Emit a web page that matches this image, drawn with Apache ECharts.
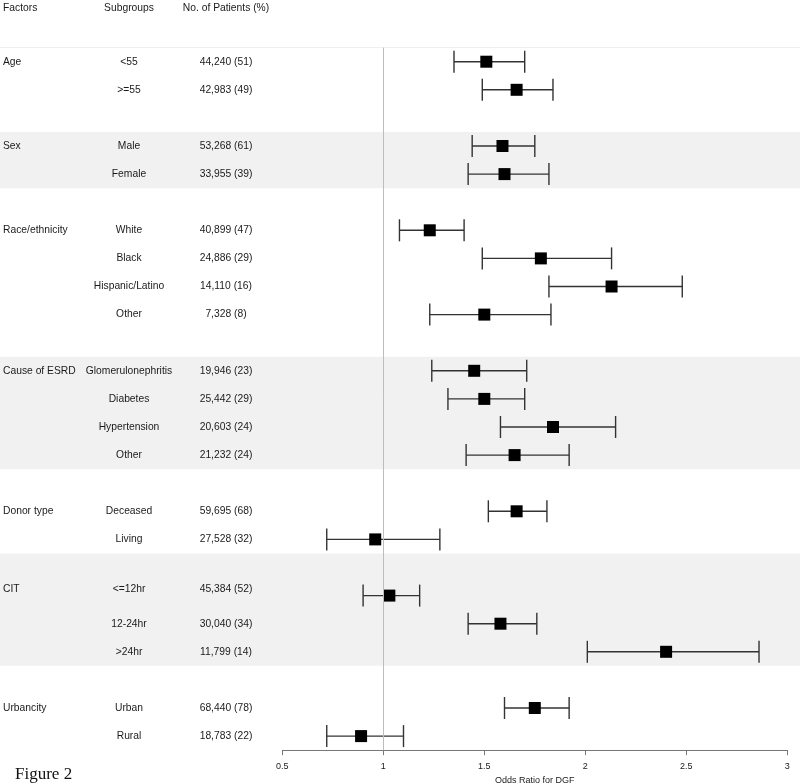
<!DOCTYPE html>
<html>
<head>
<meta charset="utf-8">
<script src="https://cdn.jsdelivr.net/npm/echarts@6/dist/echarts.min.js"></script>
<style>
html,body{margin:0;padding:0;background:#fff;}
#chart{width:800px;height:784px;}
</style>
</head>
<body>
<div id="chart"></div>
<script>
// ---------------- data ----------------
const headers = ['Factors', 'Subgroups', 'No. of Patients (%)'];
const factors = ['Age', 'Sex', 'Race/ethnicity', 'Cause of ESRD', 'Donor type', 'CIT', 'Urbancity'];
const factorRows = [0, 3, 6, 11, 16, 18.78, 23];
const subgroups = ['<55', '>=55', 'Male', 'Female', 'White', 'Black', 'Hispanic/Latino', 'Other',
  'Glomerulonephritis', 'Diabetes', 'Hypertension', 'Other', 'Deceased', 'Living',
  '<=12hr', '12-24hr', '>24hr', 'Urban', 'Rural'];
const patients = ['44,240 (51)', '42,983 (49)', '53,268 (61)', '33,955 (39)', '40,899 (47)', '24,886 (29)',
  '14,110 (16)', '7,328 (8)', '19,946 (23)', '25,442 (29)', '20,603 (24)', '21,232 (24)',
  '59,695 (68)', '27,528 (32)', '45,384 (52)', '30,040 (34)', '11,799 (14)', '68,440 (78)', '18,783 (22)'];
const rows =      [0, 1, 3, 4, 6, 7, 8, 9, 11, 12, 13, 14, 16, 17, 19, 20, 21, 23, 24];
const labelRows = [0, 1, 3, 4, 6, 7, 8, 9, 11, 12, 13, 14, 16, 17, 18.78, 20, 21, 23, 24];
const oddsRatio = [1.51, 1.66, 1.59, 1.60, 1.23, 1.78, 2.13, 1.50, 1.45, 1.50, 1.84, 1.65, 1.66, 0.96, 1.03, 1.58, 2.40, 1.75, 0.89];
const ciLow =     [1.35, 1.49, 1.44, 1.42, 1.08, 1.49, 1.82, 1.23, 1.24, 1.32, 1.58, 1.41, 1.52, 0.72, 0.90, 1.42, 2.01, 1.60, 0.72];
const ciHigh =    [1.70, 1.84, 1.75, 1.82, 1.40, 2.13, 2.48, 1.83, 1.71, 1.70, 2.15, 1.92, 1.81, 1.28, 1.18, 1.76, 2.86, 1.92, 1.10];
const bands = [[2.5, 4.5], [10.5, 14.5], [17.5, 21.5]];
const xTicks = [0.5, 1, 1.5, 2, 2.5, 3];
const headerRow = -1.9;

// ---------------- layout ----------------
const W = 800, H = 784;
const ROW0 = 61.7, ROWH = 28.1;
const plotLeft = 282.3, plotRight = W - 787.3;
const plotTop = ROW0 - 0.5 * ROWH, plotBottom = H - (ROW0 + 24.5 * ROWH);
const colFactor = 3, colSub = 129, colPat = 226;
const font = 'Liberation Sans, Arial, sans-serif';
const txtSize = 10.3;
const txtColor = '#1a1a1a';

function textSeries(texts, xs, ys, align) {
  return {
    type: 'custom', xAxisIndex: 1, yAxisIndex: 1, z: 5, silent: true, clip: false,
    data: texts.map((t, i) => [xs[i], ys[i]]),
    renderItem: function (params, api) {
      const p = api.coord([api.value(0), api.value(1)]);
      return {
        type: 'text',
        x: p[0], y: p[1],
        style: {
          text: texts[params.dataIndex],
          align: align, verticalAlign: 'middle',
          fontSize: txtSize, fontFamily: font, fill: txtColor
        }
      };
    }
  };
}

const leftTexts = factors.concat([headers[0]]);
const leftRows = factorRows.concat([headerRow]);
const subTexts = subgroups.concat([headers[1]]);
const subRows = labelRows.concat([headerRow]);
const patTexts = patients.concat([headers[2]]);
const patRows = labelRows.concat([headerRow]);

const chart = echarts.init(document.getElementById('chart'), null, { renderer: 'canvas' });
chart.setOption({
  animation: false,
  backgroundColor: '#fff',
  title: {
    text: 'Figure 2', left: 15, top: 766, padding: 0,
    textStyle: { fontFamily: 'Liberation Serif, Times New Roman, serif', fontSize: 17, fontWeight: 'normal', color: '#111' }
  },
  grid: [
    { left: plotLeft, right: plotRight, top: plotTop, bottom: plotBottom, outerBoundsMode: 'none', containLabel: false },
    { left: 0, right: 0, top: 0, bottom: 0, outerBoundsMode: 'none', containLabel: false }
  ],
  xAxis: [
    {
      gridIndex: 0, type: 'value', min: xTicks[0], max: xTicks[xTicks.length - 1], interval: 0.5,
      name: 'Odds Ratio for DGF', nameLocation: 'middle', nameGap: 24,
      nameTextStyle: { fontSize: 9, fontFamily: font, color: txtColor },
      axisLine: { show: true, onZero: false, lineStyle: { color: '#777', width: 1 } },
      axisTick: { show: true, length: 5, lineStyle: { color: '#777' } },
      axisLabel: { fontSize: 9, fontFamily: font, color: txtColor, margin: 12, showMaxLabel: true, showMinLabel: true,
        formatter: v => String(v) },
      splitLine: { show: false }
    },
    { gridIndex: 1, type: 'value', min: 0, max: W, show: false }
  ],
  yAxis: [
    { gridIndex: 0, type: 'value', min: -0.5, max: 24.5, inverse: true, show: false },
    { gridIndex: 1, type: 'value', min: -ROW0 / ROWH, max: (H - ROW0) / ROWH, inverse: true, show: false }
  ],
  series: [
    {
      type: 'line', xAxisIndex: 1, yAxisIndex: 1, data: [], z: 0, silent: true,
      markArea: {
        silent: true,
        itemStyle: { color: '#f1f1f1' },
        data: bands.map(b => [{ yAxis: b[0] }, { yAxis: b[1] }])
      },
      markLine: {
        silent: true, symbol: 'none', label: { show: false },
        lineStyle: { color: '#efefef', width: 1, type: 'solid' },
        data: [{ yAxis: -0.5 }]
      }
    },
    textSeries(leftTexts, leftTexts.map(() => colFactor), leftRows, 'left'),
    textSeries(subTexts, subTexts.map(() => colSub), subRows, 'center'),
    textSeries(patTexts, patTexts.map(() => colPat), patRows, 'center'),
    {
      type: 'custom', xAxisIndex: 0, yAxisIndex: 0, z: 3, silent: true,
      data: rows.map((r, i) => [ciLow[i], ciHigh[i], r]),
      encode: { x: [0, 1], y: 2 },
      renderItem: function (params, api) {
        const a = api.coord([api.value(0), api.value(2)]);
        const b = api.coord([api.value(1), api.value(2)]);
        const h = 11;
        const st = { stroke: '#333', lineWidth: 1.4 };
        return {
          type: 'group',
          children: [
            { type: 'line', shape: { x1: a[0], y1: a[1], x2: b[0], y2: b[1] }, style: st },
            { type: 'line', shape: { x1: a[0], y1: a[1] - h, x2: a[0], y2: a[1] + h }, style: st },
            { type: 'line', shape: { x1: b[0], y1: b[1] - h, x2: b[0], y2: b[1] + h }, style: st }
          ]
        };
      }
    },
    {
      type: 'scatter', xAxisIndex: 0, yAxisIndex: 0, z: 4, silent: true,
      symbol: 'rect', symbolSize: 12,
      itemStyle: { color: '#000', opacity: 1 },
      data: rows.map((r, i) => [oddsRatio[i], r]),
      markLine: {
        silent: true, symbol: 'none', label: { show: false },
        lineStyle: { color: '#bdbdbd', width: 1, type: 'solid' },
        data: [{ xAxis: 1 }]
      }
    }
  ]
});
</script>
</body>
</html>
